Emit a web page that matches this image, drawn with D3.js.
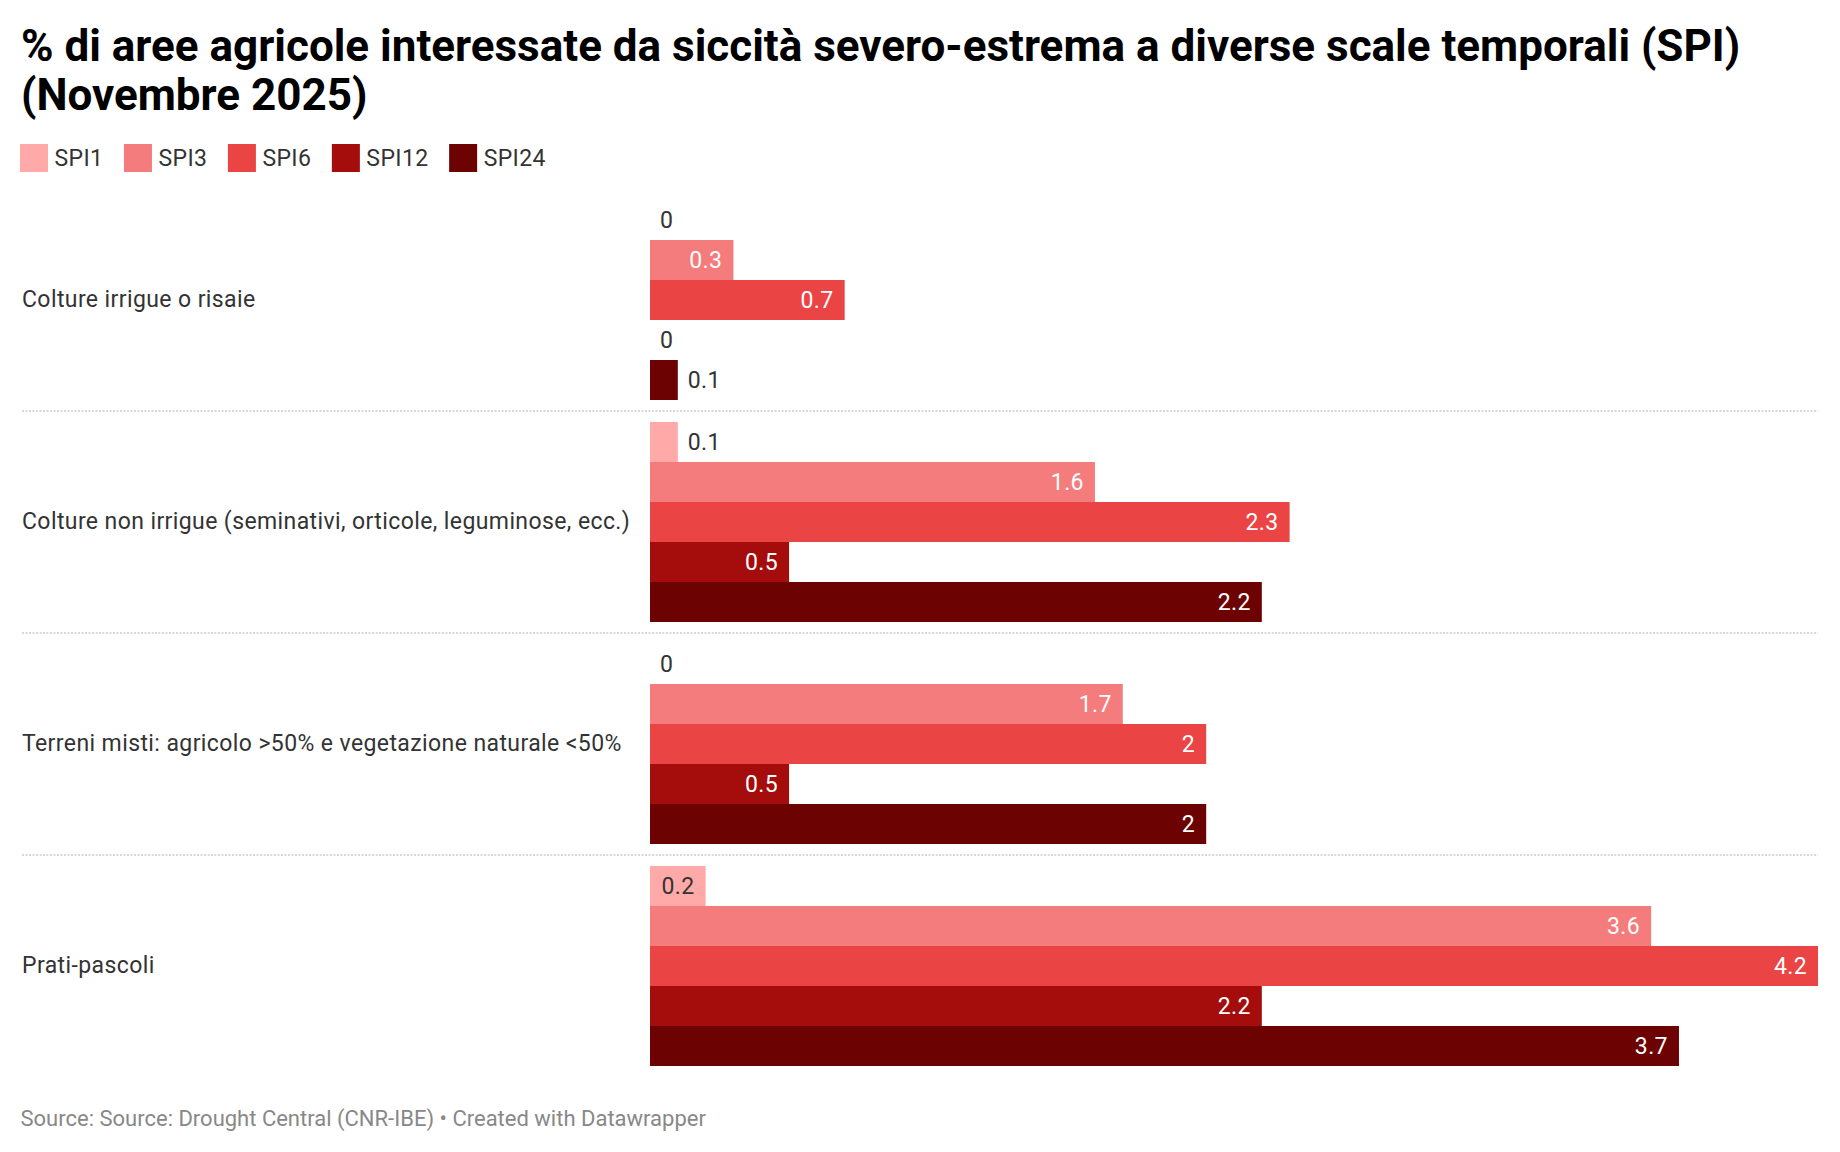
<!DOCTYPE html>
<html>
<head>
<meta charset="utf-8">
<script src="https://cdn.jsdelivr.net/npm/d3@7"></script>
<style>
  html, body { margin: 0; padding: 0; background: #fff; }
  svg { display: block; font-family: Roboto, "Noto Sans", sans-serif; }
</style>
</head>
<body>
<svg id="chart" width="1840" height="1152"></svg>
<script>
const titleLines = ["% di aree agricole interessate da siccità severo-estrema a diverse scale temporali (SPI)", "(Novembre 2025)"];
const sourceText = "Source: Source: Drought Central (CNR-IBE) • Created with Datawrapper";

const categories = [
  "Colture irrigue o risaie",
  "Colture non irrigue (seminativi, orticole, leguminose, ecc.)",
  "Terreni misti: agricolo >50% e vegetazione naturale <50%",
  "Prati-pascoli"
];
const seriesNames = ["SPI1", "SPI3", "SPI6", "SPI12", "SPI24"];
const seriesColors = ["#ffaaa8", "#f57c7c", "#eb4444", "#a50c0c", "#6d0202"];
const SPI1  = [0,   0.1, 0,   0.2];
const SPI3  = [0.3, 1.6, 1.7, 3.6];
const SPI6  = [0.7, 2.3, 2,   4.2];
const SPI12 = [0,   0.5, 0.5, 2.2];
const SPI24 = [0.1, 2.2, 2,   3.7];
const seriesValues = [SPI1, SPI3, SPI6, SPI12, SPI24];

const svg = d3.select("#chart");
const LS = 0.4;

// Title
const title = svg.append("text")
  .attr("x", 21).attr("y", 61)
  .attr("font-size", 44).attr("font-weight", 700).attr("fill", "#000");
titleLines.forEach((t, i) => {
  title.append("tspan").attr("x", 21).attr("dy", i === 0 ? 0 : 48.5).text(t);
});

// Legend
const legend = svg.append("g");
let lx = 20;
seriesNames.forEach((name, i) => {
  legend.append("rect").attr("x", lx).attr("y", 144).attr("width", 28).attr("height", 28)
    .attr("fill", seriesColors[i]);
  const t = legend.append("text").attr("x", lx + 34.5).attr("y", 166)
    .attr("font-size", 23).attr("letter-spacing", LS).attr("fill", "#333").text(name);
  const w = t.node().getComputedTextLength();
  lx = lx + 34.5 + w + 20.5;
});

// Scales
const x = d3.scaleLinear().domain([0, 4.2]).range([650, 1818]);
const y0 = d3.scaleBand().domain(categories).range([200, 1066]).paddingInner(22 / 222).paddingOuter(0);
const y1 = d3.scaleBand().domain(seriesNames).range([0, y0.bandwidth()]);

// Dividers
categories.slice(0, -1).forEach(c => {
  const yy = y0(c) + y0.bandwidth() + y0.step() * y0.paddingInner() / 2;
  svg.append("line").attr("x1", 22).attr("x2", 1818).attr("y1", yy).attr("y2", yy)
    .attr("stroke", "#cccccc").attr("stroke-width", 1.6).attr("stroke-dasharray", "2,1.5");
});

// Category labels
svg.append("g").selectAll("text").data(categories).join("text")
  .attr("x", 22)
  .attr("y", d => y0(d) + y0.bandwidth() / 2 - 1.5)
  .attr("dy", "0.35em")
  .attr("font-size", 23).attr("letter-spacing", LS).attr("fill", "#333")
  .text(d => d);

// Bars
const groups = svg.append("g").selectAll("g").data(categories).join("g")
  .attr("transform", d => `translate(0,${y0(d)})`);

groups.each(function(cat, ci) {
  const g = d3.select(this);
  seriesNames.forEach((s, si) => {
    const v = seriesValues[si][ci];
    const yTop = y1(s);
    const bw = x(v) - x(0);
    if (v > 0) {
      g.append("rect").attr("x", x(0)).attr("y", yTop).attr("width", bw).attr("height", y1.bandwidth())
        .attr("fill", seriesColors[si]);
    }
    const label = g.append("text")
      .attr("y", yTop + y1.bandwidth() / 2 - 0.5).attr("dy", "0.35em")
      .attr("font-size", 23).attr("letter-spacing", LS).text(String(v));
    const tw = label.node().getComputedTextLength();
    if (bw > tw + 22) {
      label.attr("x", x(v) - 11).attr("text-anchor", "end")
        .attr("fill", si === 0 ? "#333" : "#fff");
    } else {
      label.attr("x", x(v) + 10).attr("text-anchor", "start").attr("fill", "#333");
    }
  });
});

// Source
svg.append("text").attr("x", 20.5).attr("y", 1126)
  .attr("font-size", 22).attr("fill", "#888").text(sourceText);
</script>
</body>
</html>
